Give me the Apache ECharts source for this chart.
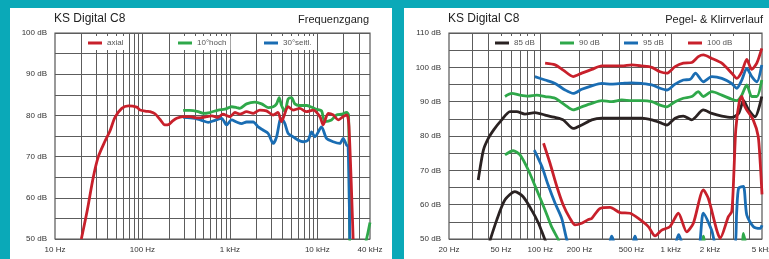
<!DOCTYPE html>
<html><head><meta charset="utf-8">
<script src="https://cdn.jsdelivr.net/npm/echarts@6/dist/echarts.min.js"></script>
<style>html,body{margin:0;padding:0;background:#0aa9b8;}#c{width:769px;height:259px;}</style>
</head><body><div id="c"></div>
<script>
// ---------- Left chart: Frequenzgang ----------
const leftLabelHz = [10, 100, 1000, 10000, 40000];
const leftGridHz = [20,30,40,50,60,70,80,90,100,200,300,400,500,600,700,800,900,1000,2000,3000,4000,5000,6000,7000,8000,9000,10000,20000,30000];
const leftDbTicks = [50, 60, 70, 80, 90, 100];

const axialHz = [20,23.4,27.4,31.3,37,42.5,48.5,58,69,86,94,112,122,139,159,180,200,220,246,293,348,431,543,620,730,830,1000,1140,1300,1550,1850,2200,2620,3120,3550,3880,4640,5270,6300,7500,8950,10700,11650,13300,15200,17300,19700,21800,23000,25650];
const axialDb = [50,57,65,70,73.6,76.2,79.5,81.7,82.3,82.0,81.3,81.0,80.9,80.4,79.0,77.7,77.8,78.6,79.3,79.7,79.7,79.4,79.7,79.9,79.5,80.3,79.7,80.7,80.3,80.9,80.5,81.3,81.1,80.1,80.7,78.5,82.1,81.3,81.7,80.9,81.3,79.7,77.7,80.5,80.1,78.9,79.7,80.1,77.3,50];

const hochHz = [292,349,434,495,591,735,877,1045,1193,1300,1552,1931,2303,2740,3126,3418,3658,3896,4253,4639,5070,5529,6310,7530,8586,9790,11170,12180,14510,16560,18910,21560,22740,24500,32000,40000];
const hochDb = [81.2,81.2,80.9,80.5,80.7,81.3,81.5,82.1,81.9,81.7,82.8,83.2,82.8,81.9,82.1,82.8,84.3,82.4,80.9,84.0,84.3,82.8,82.4,82.4,82.0,81.5,81.1,78.5,78.9,80.1,80.3,80.7,80.1,45,46,54];

const seitlHz = [292,398,475,565,674,804,917,1045,1193,1360,1552,1847,2106,2406,2740,3126,3418,3728,3896,4253,4639,5286,6034,6886,7848,8586,9355,11170,12740,15170,18070,19730,21560,22500,23500];
const seitlDb = [79.5,79.3,78.8,78.3,78.8,79.3,77.7,78.9,78.4,78.0,78.4,78.4,77.2,76.4,75.6,73.2,74.8,78.8,79.2,78.0,75.6,74.8,74.0,73.6,74.0,76.0,74.8,77.2,74.4,73.6,73.2,74.4,72.8,72.4,50];

// ---------- Right chart: Pegel- & Klirrverlauf ----------
const rightLabelHz = [20, 50, 100, 200, 500, 1000, 2000, 5000];
const rightGridHz = [30,40,50,60,70,80,90,100,200,300,400,500,600,700,800,900,1000,2000,3000,4000];
const rightDbTicks = [50, 60, 70, 80, 90, 100, 110];

const lvl85Hz = [33.5,36.7,40,44,50.7,58.7,66,76.4,91,109,130,150,179,208,248,296,421,600,715,828,932,1079,1248,1449,1777,2061,2460,2934,3310,3613,3950,4430,4980];
const lvl85Db = [67.2,75.9,79.3,81.8,84.7,87.1,87.1,86.4,86.8,86.1,85.4,84.7,82.2,83.2,84.7,85.2,85.2,85.2,84.7,83.9,83.2,85.2,85.8,84.7,87.6,86.6,85.8,85.4,86.6,90.3,87.6,85.6,91.5];
const lvl90Hz = [53.7,60.5,70,81,94,109,130,155,179,208,248,296,353,421,502,600,715,828,932,1079,1248,1449,1627,1777,2061,2460,2934,3204,3500,3822,4175,4562,4980];
const lvl90Db = [91.5,92.4,91.9,91.6,91.9,91.5,91.0,89.0,87.6,88.5,89.5,90.3,90.0,90.5,90.3,90.3,90.0,89.0,88.5,90.0,91.0,91.5,92.9,91.5,92.9,91.9,90.7,90.3,91.9,94.9,91.5,91.5,96.3];
const lvl95Hz = [91,109,130,155,179,208,248,296,353,421,502,600,715,828,932,1079,1248,1410,1545,1777,2061,2460,2934,3204,3500,3822,4175,4562,4980];
const lvl95Db = [97.3,96.3,95.3,93.4,92.4,93.6,94.6,95.3,95.1,95.3,95.5,95.3,94.9,93.9,93.4,95.1,96.3,96.5,98.3,95.8,97.3,96.8,95.3,93.9,96.3,99.7,97.3,95.8,100.7];
const lvl100Hz = [109,130,150,179,208,248,296,353,421,502,600,715,828,932,1079,1248,1449,1627,1777,2061,2460,2934,3204,3500,3822,4175,4562,4980];
const lvl100Db = [101.2,100.7,99.2,97.3,98.3,99.4,100.4,100.4,100.4,100.7,100.4,100.0,98.7,98.3,100.2,101.2,101.4,103.1,103.6,102.6,101.2,98.3,96.8,98.7,102.3,99.4,101.2,105.5];

const thd85Hz = [40,46.4,53.7,64,74,86,97,109,125];
const thd85Db = [48,55.5,61.4,63.8,62.3,58.4,54.6,49.7,45];
const thd90Hz = [53.7,62,70,81,94,109,122,138,150,1650,1780,1900,3400,3600,3850];
const thd90Db = [74.5,75.7,74.5,70.1,64.3,58.4,53.6,49.7,46,46,50.8,46,46,51.6,46];
const thd95Hz = [90,103,115,130,146,160,175,330,353,380,500,532,570,1050,1150,1250,1600,1777,2061,2250,3050,3200,3310,3600,3822,4300,4850,5000];
const thd95Db = [75.9,71.1,65.7,60.4,56.0,49.7,46,48,50.8,48,48,50.8,48,48,51.3,48,46,57.5,52.5,48,48,58,64.8,65.3,57,53.6,53.1,54];
const thd100Hz = [106,119,134,150,169,185,208,234,248,287,343,408,487,565,673,759,853,986,1143,1325,1490,1777,1941,2250,2388,2763,2934,3050,3150,3350,3500,3650,3822,4280,4670,4850,5000];
const thd100Db = [77.9,72.0,65.3,59.9,56.0,54.1,54.6,55.7,56.0,58.9,59.2,57.7,57.5,56.0,53.6,50.9,52.6,53.6,57.5,52.1,54.6,64.3,61.8,52.6,50.2,56.5,58,70,82,90,91.5,89,87.6,84.7,80,72,63];

const RED = '#c8202b', GREEN = '#2fa84a', BLUE = '#1a6db3', BLACK = '#2a2222';
const FONT = 'Liberation Sans, Arial, sans-serif';
const GRIDC = '#5c5c5c';

const lg = v => Math.log10(v);
const pairs = (hz, db) => hz.map((f, i) => [lg(f), db[i]]);
const fmtHz = v => { const f = Math.round(Math.pow(10, v)); return f >= 1000 ? (f / 1000) + ' kHz' : f + ' Hz'; };

function xAxisCfg(gi, minHz, maxHz, labelsHz, gridHz) {
  return {
    type: 'value', gridIndex: gi, min: lg(minHz), max: lg(maxHz),
    axisLine: { show: false },
    axisTick: { show: false, customValues: gridHz.map(lg) },
    axisLabel: { customValues: labelsHz.map(lg), formatter: fmtHz, fontSize: 8, color: '#333', margin: 7, fontFamily: FONT, alignMaxLabel: 'center', alignMinLabel: 'center' },
    splitLine: { show: true, lineStyle: { color: GRIDC, width: 1 } }
  };
}
function yAxisCfg(gi, min, max) {
  return {
    type: 'value', gridIndex: gi, min: min, max: max, interval: 5,
    axisLine: { show: false }, axisTick: { show: false },
    axisLabel: { formatter: v => (v % 10 === 0 ? v + ' dB' : ''), fontSize: 8, color: '#333', margin: 8, fontFamily: FONT },
    splitLine: { show: true, lineStyle: { color: GRIDC, width: 1 } }
  };
}
function line(name, data, color, xi) {
  return { type: 'line', name: name, data: data, xAxisIndex: xi, yAxisIndex: xi, symbol: 'none', smooth: 0.25,
    lineStyle: { color: color, width: 2.8 }, itemStyle: { color: color }, clip: true, z: 5 };
}
function legendCfg(name, left) {
  return { data: [name], left: left, top: 36, padding: [3, 4], itemWidth: 14, itemHeight: 3, icon: 'rect',
    backgroundColor: '#fff', textStyle: { fontSize: 8, color: '#555', fontFamily: FONT }, selectedMode: false };
}

const chart = echarts.init(document.getElementById('c'), null, { renderer: 'canvas' });
chart.setOption({
  animation: false,
  backgroundColor: '#0aa9b8',
  textStyle: { fontFamily: FONT },
  graphic: [
    { type: 'rect', shape: { x: 10, y: 8, width: 382, height: 260 }, style: { fill: '#fff' }, z: -10 },
    { type: 'rect', shape: { x: 404, y: 8, width: 370, height: 260 }, style: { fill: '#fff' }, z: -10 }
  ],
  title: [
    { text: 'KS Digital C8', left: 54, top: 13, padding: 0, textStyle: { fontSize: 12, fontWeight: 'normal', color: '#222', fontFamily: FONT } },
    { text: 'Frequenzgang', right: 400, top: 14, padding: 0, textStyle: { fontSize: 11, fontWeight: 'normal', color: '#222', fontFamily: FONT } },
    { text: 'KS Digital C8', left: 448, top: 13, padding: 0, textStyle: { fontSize: 12, fontWeight: 'normal', color: '#222', fontFamily: FONT } },
    { text: 'Pegel- & Klirrverlauf', right: 6, top: 14, padding: 0, textStyle: { fontSize: 11, fontWeight: 'normal', color: '#222', fontFamily: FONT } }
  ],
  legend: [
    legendCfg('axial', 84), legendCfg('10°hoch', 174), legendCfg('30°seitl.', 260),
    legendCfg('85 dB', 491), legendCfg('90 dB', 556), legendCfg('95 dB', 620), legendCfg('100 dB', 684)
  ],
  grid: [
    { left: 55, top: 33, width: 315, height: 206, show: true, borderColor: '#555', borderWidth: 1.2, backgroundColor: 'transparent', outerBoundsMode: 'none', containLabel: false },
    { left: 449, top: 33, width: 313, height: 206, show: true, borderColor: '#555', borderWidth: 1.2, backgroundColor: 'transparent', outerBoundsMode: 'none', containLabel: false }
  ],
  xAxis: [ xAxisCfg(0, 10, 40000, leftLabelHz, leftGridHz), xAxisCfg(1, 20, 5000, rightLabelHz, rightGridHz) ],
  yAxis: [ yAxisCfg(0, 50, 100), yAxisCfg(1, 50, 110) ],
  series: [
    line('10°hoch', pairs(hochHz, hochDb), GREEN, 0),
    line('30°seitl.', pairs(seitlHz, seitlDb), BLUE, 0),
    line('axial', pairs(axialHz, axialDb), RED, 0),
    line('85 dB', pairs(lvl85Hz, lvl85Db), BLACK, 1),
    line('85 dB', pairs(thd85Hz, thd85Db), BLACK, 1),
    line('90 dB', pairs(lvl90Hz, lvl90Db), GREEN, 1),
    line('90 dB', pairs(thd90Hz, thd90Db), GREEN, 1),
    line('95 dB', pairs(lvl95Hz, lvl95Db), BLUE, 1),
    line('95 dB', pairs(thd95Hz, thd95Db), BLUE, 1),
    line('100 dB', pairs(lvl100Hz, lvl100Db), RED, 1),
    line('100 dB', pairs(thd100Hz, thd100Db), RED, 1)
  ]
});
</script></body></html>
